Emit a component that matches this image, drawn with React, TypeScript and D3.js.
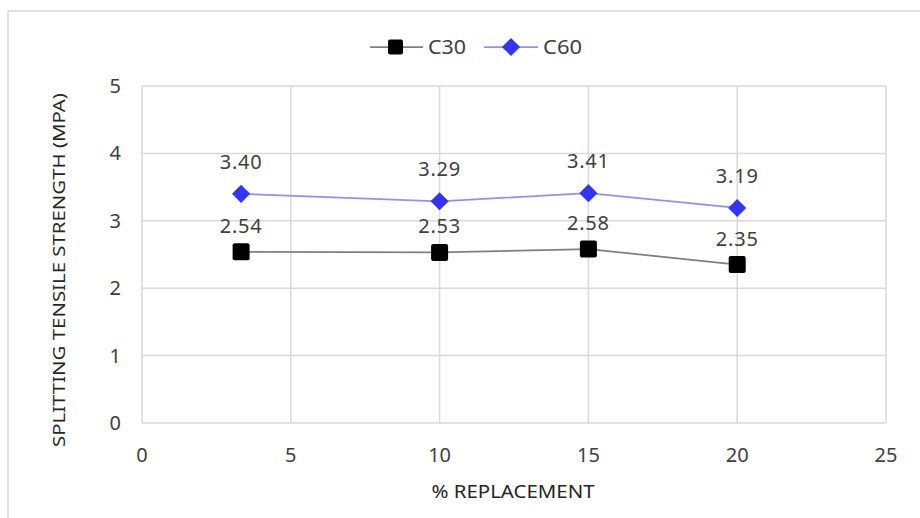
import React from 'react';
import * as d3 from 'd3';

// % replacement values for each point
const replacement = [3.33, 10, 15, 20];
const c30 = [2.54, 2.53, 2.58, 2.35];
const c60 = [3.4, 3.29, 3.41, 3.19];
const xTicks = [0, 5, 10, 15, 20, 25];
const yTicks = [0, 1, 2, 3, 4, 5];

const W = 920;
const H = 518;
const FONT = '"Noto Sans", "Open Sans", sans-serif';

const App: React.FC = () => {
  const x = d3.scaleLinear().domain([0, 25]).range([142, 886]);
  const y = d3.scaleLinear().domain([0, 5]).range([423, 86]);

  const pts = (vals: number[]) => vals.map((v, i) => ({ x: replacement[i], y: v }));
  const line = d3.line<{ x: number; y: number }>().x(d => x(d.x)).y(d => y(d.y));

  const diamond = d3.symbol().type(d3.symbolDiamond2).size(210)();

  return (
    <svg width={W} height={H} style={{ position: 'absolute', left: 0, top: 0, background: '#fff' }}>
      <rect x={8} y={11} width={W} height={H} fill="#fff" stroke="#d9d9d9" strokeWidth={1.5} />

      {/* grid */}
      {yTicks.map(t => (
        <line key={'gy' + t} x1={x(0)} x2={x(25)} y1={y(t)} y2={y(t)} stroke="#d9d9d9" strokeWidth={1.5} />
      ))}
      {xTicks.map(t => (
        <line key={'gx' + t} x1={x(t)} x2={x(t)} y1={y(0)} y2={y(5)} stroke="#d9d9d9" strokeWidth={1.5} />
      ))}

      {/* tick labels */}
      {yTicks.map(t => (
        <text key={'ty' + t} x={121} y={y(t)} dy="0.35em" textAnchor="end" fontFamily={FONT} fontSize={20} fill="#404040">
          {t}
        </text>
      ))}
      {xTicks.map(t => (
        <text key={'tx' + t} x={x(t)} y={455} dy="0.35em" textAnchor="middle" fontFamily={FONT} fontSize={20} fill="#404040">
          {t}
        </text>
      ))}

      {/* axis titles */}
      <text
        x={513}
        y={492}
        dy="0.35em"
        textAnchor="middle"
        fontFamily={FONT}
        fontSize={18}
        fill="#262626"
        textLength={163}
        lengthAdjust="spacingAndGlyphs"
      >
        % REPLACEMENT
      </text>
      <text
        transform={`translate(59,270) rotate(-90)`}
        dy="0.35em"
        textAnchor="middle"
        fontFamily={FONT}
        fontSize={17}
        fill="#262626"
        textLength={354}
        lengthAdjust="spacingAndGlyphs"
      >
        SPLITTING TENSILE STRENGTH (MPA)
      </text>

      {/* series */}
      <path d={line(pts(c30)) || ''} fill="none" stroke="#7f7f7f" strokeWidth={1.75} />
      <path d={line(pts(c60)) || ''} fill="none" stroke="#8f8fff" strokeWidth={1.75} />

      {pts(c30).map((d, i) => (
        <g key={'m30' + i}>
          <rect x={x(d.x) - 8.5} y={y(d.y) - 8.5} width={17} height={17} rx={2} fill="#000" />
          <text x={x(d.x)} y={y(d.y) - 19} textAnchor="middle" fontFamily={FONT} fontSize={20} letterSpacing={0.8} fill="#404040">
            {d.y.toFixed(2)}
          </text>
        </g>
      ))}
      {pts(c60).map((d, i) => (
        <g key={'m60' + i}>
          <path d={diamond || ''} transform={`translate(${x(d.x)},${y(d.y)})`} fill="#3333ff" />
          <text x={x(d.x)} y={y(d.y) - 25} textAnchor="middle" fontFamily={FONT} fontSize={20} letterSpacing={0.8} fill="#404040">
            {d.y.toFixed(2)}
          </text>
        </g>
      ))}

      {/* legend */}
      <g fontFamily={FONT} fontSize={19} fill="#404040">
        <line x1={370} x2={423} y1={47} y2={47} stroke="#7f7f7f" strokeWidth={1.75} />
        <rect x={388} y={39.5} width={15} height={15} rx={2} fill="#000" />
        <text x={428} y={47} dy="0.35em" textLength={38} lengthAdjust="spacingAndGlyphs">C30</text>
        <line x1={484} x2={538} y1={47} y2={47} stroke="#8f8fff" strokeWidth={1.75} />
        <path d={diamond || ''} transform="translate(511,47)" fill="#3333ff" />
        <text x={543} y={47} dy="0.35em" textLength={39} lengthAdjust="spacingAndGlyphs">C60</text>
      </g>
    </svg>
  );
};

export default App;
